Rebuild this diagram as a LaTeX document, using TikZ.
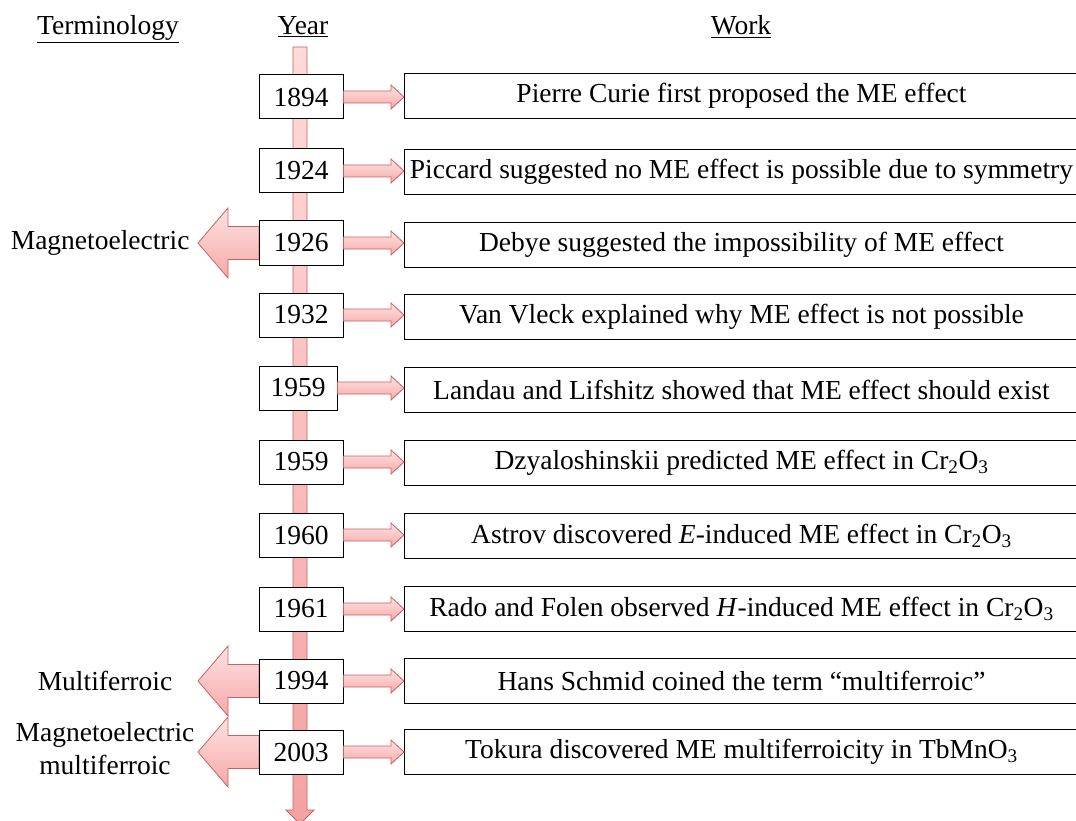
\documentclass[tikz,border=0pt]{standalone}
\usepackage{fontspec}
\setmainfont{Liberation Serif}
\usetikzlibrary{calc}
\definecolor{arrowred}{HTML}{C9605D}
\definecolor{pinklight}{HTML}{FFE3E3}
\definecolor{pinkdark}{HTML}{F6A8A8}
\definecolor{barlight}{HTML}{FFDADA}
\definecolor{bardark}{HTML}{F3A2A2}
\begin{document}
\begin{tikzpicture}[x=1pt,y=-1pt,
  every node/.style={font=\fontsize{27.5}{33}\selectfont},
  yearbox/.style={draw=black, fill=white, line width=1pt, minimum width=84pt, minimum height=44pt, inner sep=0pt},
  workbox/.style={draw=black, fill=white, line width=1pt, minimum width=674pt, minimum height=45pt, inner sep=0pt, anchor=west},
  fatarrow/.style={draw=arrowred, line width=0.8pt, top color=pinklight, bottom color=pinkdark},
  bigarrow/.style={draw=arrowred, line width=0.8pt, top color=pinklight, bottom color=pinkdark},
  barstyle/.style={draw=arrowred, line width=0.8pt, top color=barlight, bottom color=bardark},
  header/.style={anchor=base},
  termlabel/.style={align=center}
]
\useasboundingbox (0,0) rectangle (1076,821);
\clip (0,0) rectangle (1076,821);

% headers
\node[header] (hterm) at (108,35) {\underline{Terminology}};
\node[header] (hyear) at (303,35) {\underline{Year}};
\node[header] (hwork) at (741,35) {\underline{Work}};

% vertical timeline bar with arrow head
\coordinate (bartop) at (300,47);
\coordinate (bartip) at (300,824);
\path[barstyle] (293,47) -- (307,47) -- (307,810) -- (314,810) -- (bartip) -- (286,810) -- (293,810) -- cycle;

% year node positions
\coordinate (c1) at (301,97);
\coordinate (c2) at (301,171);
\coordinate (c3) at (301,243);
\coordinate (c4) at (301,315);
\coordinate (c5) at (298,388);
\coordinate (c6) at (301,462);
\coordinate (c7) at (301,535);
\coordinate (c8) at (301,609);
\coordinate (c9) at (301,681);
\coordinate (c10) at (301,752);

% big terminology arrows (drawn before boxes)
\foreach \c in {c3,c9,c10}{
  \path[bigarrow] ($(\c)+(-42,-16.5)$) -- ($(\c)+(-73,-16.5)$) -- ($(\c)+(-73,-35)$) -- ($(\c)+(-103,0)$)
     -- ($(\c)+(-73,35)$) -- ($(\c)+(-73,16.5)$) -- ($(\c)+(-42,16.5)$) -- cycle;
}

\node[yearbox] (y1) at (c1) {1894};
\node[yearbox] (y2) at (c2) {1924};
\node[yearbox] (y3) at (c3) {1926};
\node[yearbox] (y4) at (c4) {1932};
\node[yearbox, minimum width=78pt] (y5) at (c5) {1959};
\node[yearbox] (y6) at (c6) {1959};
\node[yearbox] (y7) at (c7) {1960};
\node[yearbox] (y8) at (c8) {1961};
\node[yearbox] (y9) at (c9) {1994};
\node[yearbox] (y10) at (c10) {2003};

% work boxes
\node[workbox] (w1) at (404,96) {Pierre Curie first proposed the ME effect};
\node[workbox] (w2) at (404,172) {Piccard suggested no ME effect is possible due to symmetry};
\node[workbox] (w3) at (404,245) {Debye suggested the impossibility of ME effect};
\node[workbox] (w4) at (404,317) {Van Vleck explained why ME effect is not possible};
\node[workbox] (w5) at (404,390) {Landau and Lifshitz showed that ME effect should exist};
\node[workbox] (w6) at (404,463) {Dzyaloshinskii predicted ME effect in Cr\textsubscript{2}O\textsubscript{3}};
\node[workbox] (w7) at (404,536) {Astrov discovered \textit{E}-induced ME effect in Cr\textsubscript{2}O\textsubscript{3}};
\node[workbox] (w8) at (404,609) {Rado and Folen observed \textit{H}-induced ME effect in Cr\textsubscript{2}O\textsubscript{3}};
\node[workbox] (w9) at (404,681) {Hans Schmid coined the term \textquotedblleft multiferroic\textquotedblright};
\node[workbox] (w10) at (404,752) {Tokura discovered ME multiferroicity in TbMnO\textsubscript{3}};

% small connector arrows
\foreach \i in {1,...,10}{
  \path[fatarrow] ($(y\i.east)+(0,-6)$) -- ($(w\i.west |- y\i.east)+(-13,-6)$) -- ($(w\i.west |- y\i.east)+(-13,-12)$)
     -- ($(w\i.west |- y\i.east)+(0,0)$) -- ($(w\i.west |- y\i.east)+(-13,12)$) -- ($(w\i.west |- y\i.east)+(-13,6)$)
     -- ($(y\i.east)+(0,6)$) -- cycle;
}

% terminology labels
\node[anchor=east] (t1) at (193,243) {Magnetoelectric};
\node (t2) at (105,681) {Multiferroic};
\node[termlabel] (t3) at (105,749) {Magnetoelectric\\multiferroic};
\end{tikzpicture}
\end{document}
